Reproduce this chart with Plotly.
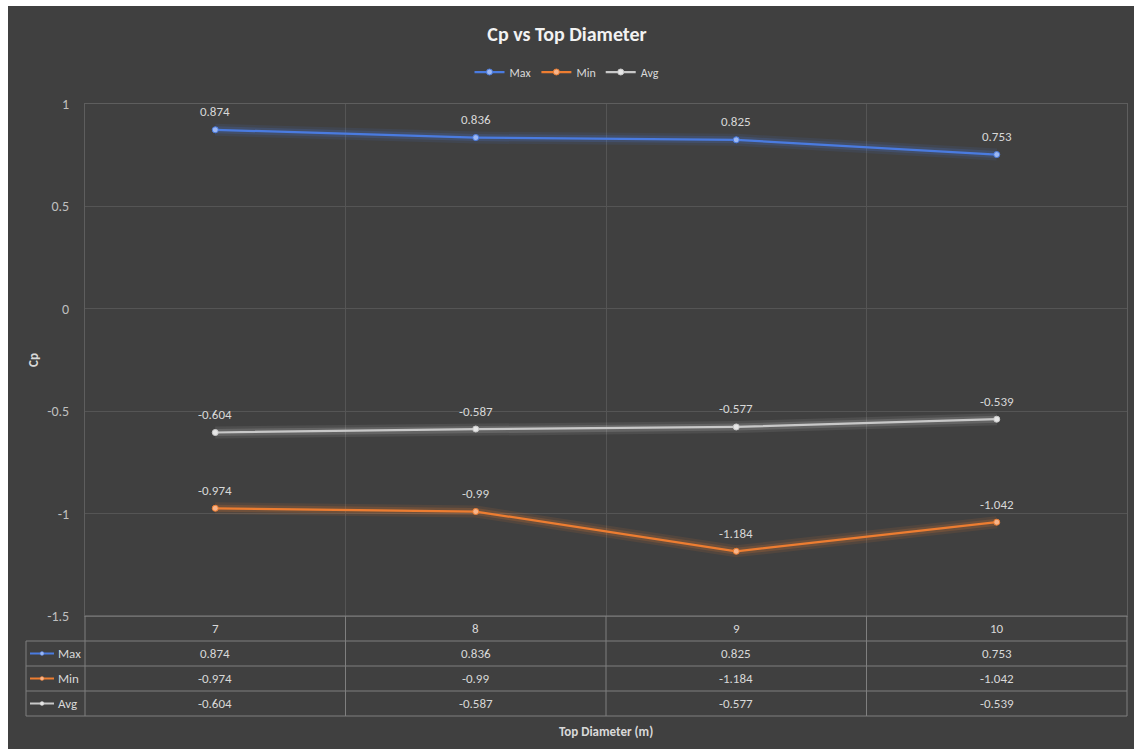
import plotly.graph_objects as go

# Data
diameters = ["7", "8", "9", "10"]
cp_max = [0.874, 0.836, 0.825, 0.753]
cp_min = [-0.974, -0.99, -1.184, -1.042]
cp_avg = [-0.604, -0.587, -0.577, -0.539]
series_names = ["Max", "Min", "Avg"]
y_ticks = [1, 0.5, 0, -0.5, -1, -1.5]
y_tick_text = ["1", "0.5", "0", "-0.5", "-1", "-1.5"]

series_values = [cp_max, cp_min, cp_avg]
series_colors = ["#4a7be0", "#ed7d31", "#c8c8c8"]
marker_colors = ["#9db8f2", "#f7b48a", "#e6e6e6"]

W, H = 1134, 749
ML, MR, MT, MB = 85, 7, 104, 133
PW, PH = W - ML - MR, H - MT - MB
FONT = "Carlito, Calibri, Lato, sans-serif"
BG = "#404040"
TXT = "#d9d9d9"


def px_x(px):
    return (px - ML) / PW


def px_y(py):
    return (H - MB - py) / PH


fig = go.Figure()

# soft glow under each line, then the line itself
for name, vals, col, mcol in zip(series_names, series_values, series_colors, marker_colors):
    for w, op in [(12, 0.10), (7, 0.18)]:
        fig.add_trace(go.Scatter(
            x=diameters, y=vals, mode="lines",
            line=dict(color=col, width=w), opacity=op,
            showlegend=False, hoverinfo="skip"))
    fig.add_trace(go.Scatter(
        x=diameters, y=vals, mode="lines+markers", name=name,
        line=dict(color=col, width=2.25),
        marker=dict(size=6, color=mcol, line=dict(color=col, width=1))))

annotations = []
shapes = []

# data labels above each point (category index on the x axis)
for vals in series_values:
    for i, v in enumerate(vals):
        annotations.append(dict(
            x=i, y=v, xref="x", yref="y", text=str(v), showarrow=False,
            xanchor="center", yanchor="middle",
            yshift=18, font=dict(family=FONT, size=13, color=TXT)))

# dark chart area
shapes.append(dict(type="rect", xref="paper", yref="paper",
                   x0=px_x(8), x1=px_x(W), y0=px_y(H), y1=px_y(6),
                   fillcolor=BG, line=dict(width=0), layer="below"))

# data table under the plot
row_edges = [616, 641, 666, 691, 716]
col_edges = [85, 345.5, 606, 866.5, 1127]
grid_col = "#7f7f7f"
shapes.append(dict(type="line", xref="paper", yref="paper",
                   x0=px_x(85), x1=px_x(1127), y0=px_y(row_edges[0]), y1=px_y(row_edges[0]),
                   line=dict(color=grid_col, width=1)))
for ry in row_edges[1:]:
    shapes.append(dict(type="line", xref="paper", yref="paper",
                       x0=px_x(26), x1=px_x(1127), y0=px_y(ry), y1=px_y(ry),
                       line=dict(color=grid_col, width=1)))
for cx in col_edges:
    shapes.append(dict(type="line", xref="paper", yref="paper",
                       x0=px_x(cx), x1=px_x(cx), y0=px_y(616), y1=px_y(716),
                       line=dict(color=grid_col, width=1)))
shapes.append(dict(type="line", xref="paper", yref="paper",
                   x0=px_x(26), x1=px_x(26), y0=px_y(641), y1=px_y(716),
                   line=dict(color=grid_col, width=1)))

row_centers = [(a + b) / 2 for a, b in zip(row_edges[:-1], row_edges[1:])]
cell_font = dict(family=FONT, size=13, color=TXT)
for i, d in enumerate(diameters):
    annotations.append(dict(x=i, xref="x", y=px_y(row_centers[0]), yref="paper",
                            text=d, showarrow=False, xanchor="center", yanchor="middle",
                            font=cell_font))
for r, (name, vals, col, mcol) in enumerate(zip(series_names, series_values, series_colors, marker_colors)):
    yc = row_centers[r + 1]
    for i, v in enumerate(vals):
        annotations.append(dict(x=i, xref="x", y=px_y(yc), yref="paper",
                                text=str(v), showarrow=False,
                                xanchor="center", yanchor="middle", font=cell_font))
    shapes.append(dict(type="line", xref="paper", yref="paper",
                       x0=px_x(30), x1=px_x(54), y0=px_y(yc), y1=px_y(yc),
                       line=dict(color=col, width=2)))
    shapes.append(dict(type="circle", xref="paper", yref="paper",
                       x0=px_x(40), x1=px_x(44), y0=px_y(yc + 2), y1=px_y(yc - 2),
                       fillcolor=mcol, line=dict(color=col, width=0.5)))
    annotations.append(dict(x=px_x(56), xref="paper", y=px_y(yc), yref="paper",
                            text=name, showarrow=False, xanchor="left", yanchor="middle",
                            font=cell_font))

# axis titles
annotations.append(dict(x=px_x(606), xref="paper", y=px_y(731), yref="paper",
                        text="<b>Top Diameter (m)</b>", showarrow=False,
                        xanchor="center", yanchor="middle",
                        font=dict(family=FONT, size=13, color=TXT)))
annotations.append(dict(x=px_x(33), xref="paper", y=px_y(360), yref="paper",
                        text="<b>Cp</b>", showarrow=False, textangle=-90,
                        xanchor="center", yanchor="middle",
                        font=dict(family=FONT, size=13, color=TXT)))

fig.update_layout(
    width=W, height=H,
    margin=dict(l=ML, r=MR, t=MT, b=MB),
    paper_bgcolor="white",
    plot_bgcolor="rgba(0,0,0,0)",
    font=dict(family=FONT, color=TXT),
    title=dict(text="<b>Cp vs Top Diameter</b>", x=0.5, xanchor="center",
               y=1 - 34 / H, yanchor="middle",
               font=dict(family=FONT, size=20, color="#f2f2f2")),
    legend=dict(orientation="h", x=px_x(567), xanchor="center",
                y=px_y(72), yanchor="middle", itemwidth=30,
                font=dict(family=FONT, size=12, color=TXT),
                bgcolor="rgba(0,0,0,0)"),
    shapes=shapes,
    annotations=annotations,
    showlegend=True,
)
fig.update_xaxes(type="category", range=[-0.5, 3.5], tickson="boundaries",
                 showgrid=True, gridcolor="#555555", gridwidth=1,
                 showticklabels=False, ticks="", zeroline=False,
                 showline=True, linecolor="#5e5e5e", mirror=True)
fig.update_yaxes(range=[-1.5, 1], tickvals=y_ticks, ticktext=y_tick_text,
                 showgrid=True, gridcolor="#555555", gridwidth=1,
                 zeroline=False, ticks="", ticklabelstandoff=12,
                 tickfont=dict(family=FONT, size=14, color="#bfbfbf"),
                 showline=True, linecolor="#5e5e5e", mirror=True)

fig.write_html("out.html")
